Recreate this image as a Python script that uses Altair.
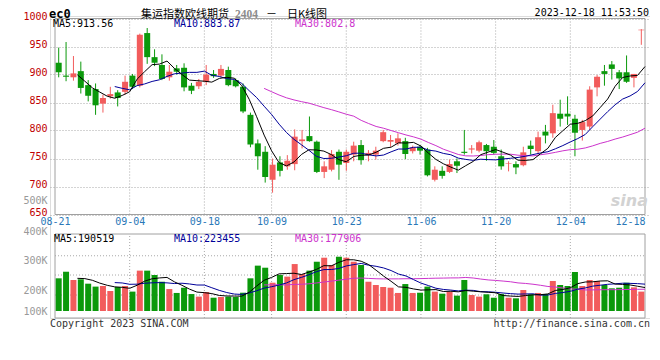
import json
import altair as alt
import pandas as pd

# ---------------- data ----------------
tick_days = [0, 10, 20, 29, 39, 49, 59, 69, 79]
tick_dates = ["08-21", "09-04", "09-18", "10-09", "10-23", "11-06", "11-20", "12-04", "12-18"]
grid_days = [10, 20, 29, 39, 49, 59, 69]

price_ticks = [650, 700, 750, 800, 850, 900, 950, 1000]

vol_tick_values = [0, 166000, 412000, 656000, 910000]
vol_tick_labels = ["100K", "200K", "300K", "400K", "500K"]
vol_grid = [131000, 295000, 453000]

prev_close = 919        # day before 08-21 (feeds the moving averages)
prev_volume = 236000

opens = [921, 898, 895, 906, 881, 874, 848, 861, 868, 869,
         898, 880, 974, 931, 917, 895, 911, 912, 880, 879,
         887, 901, 898, 908, 890, 878, 828, 777, 762, 712,
         743, 736, 740, 781, 790, 780, 726, 730, 762, 742,
         757, 774, 756, 757, 781, 780, 777, 781, 763, 771,
         766, 712, 728, 726, 745, 762, 766, 764, 774, 771,
         754, 741, 740, 738, 773, 763, 798, 795, 830, 830,
         821, 801, 807, 877, 906, 918, 904, 904, 894, 979]
highs = [948, 958, 933, 923, 890, 884, 864, 878, 872, 898,
         901, 973, 983, 945, 936, 917, 917, 920, 885, 892,
         917, 908, 917, 914, 893, 884, 832, 784, 772, 750,
         754, 756, 802, 801, 825, 782, 745, 765, 766, 766,
         780, 783, 765, 771, 801, 792, 795, 787, 773, 774,
         769, 736, 736, 748, 750, 801, 774, 782, 776, 783,
         766, 745, 745, 771, 782, 798, 810, 846, 855, 861,
         828, 819, 879, 899, 917, 924, 908, 934, 901, 981]
lows = [895, 888, 889, 866, 852, 828, 832, 857, 843, 864,
        874, 877, 919, 915, 890, 889, 900, 870, 865, 874,
        881, 894, 895, 879, 877, 831, 770, 730, 707, 689,
        718, 730, 729, 768, 780, 724, 715, 727, 712, 728,
        745, 739, 745, 748, 779, 771, 773, 749, 759, 757,
        718, 709, 714, 724, 724, 757, 759, 761, 746, 757,
        730, 727, 722, 736, 757, 758, 777, 787, 807, 810,
        754, 782, 801, 861, 880, 891, 874, 885, 877, 953]
closes = [904, 896, 902, 876, 862, 845, 858, 865, 858, 887,
          878, 971, 931, 921, 892, 905, 905, 877, 871, 887,
          900, 897, 910, 881, 879, 834, 775, 754, 717, 739,
          728, 746, 789, 784, 781, 726, 736, 758, 739, 762,
          773, 747, 760, 764, 797, 783, 786, 758, 770, 764,
          720, 730, 719, 740, 737, 760, 768, 779, 763, 760,
          736, 742, 734, 761, 767, 788, 791, 831, 821, 825,
          796, 815, 873, 896, 901, 910, 893, 887, 901, 980]
volumes = [268000, 322000, 254000, 260000, 224000, 200000, 205000, 164000, 197000, 205000,
           159000, 331000, 331000, 295000, 240000, 180000, 148000, 191000, 139000, 118000,
           156000, 109000, 115000, 118000, 115000, 150000, 268000, 372000, 355000, 232000,
           295000, 282000, 385000, 303000, 331000, 404000, 437000, 377000, 445000, 437000,
           404000, 377000, 240000, 213000, 197000, 191000, 148000, 221000, 148000, 150000,
           200000, 159000, 142000, 159000, 126000, 254000, 131000, 118000, 137000, 109000,
           139000, 109000, 104000, 172000, 137000, 148000, 139000, 246000, 213000, 205000,
           320000, 205000, 254000, 246000, 213000, 186000, 191000, 232000, 194000, 159000]

title_code = "ec0"
title_name = "集运指数欧线期货"
title_contract = "2404"
title_dash = "－"
title_kind = "日K线图"
stamp = "2023-12-18 11:53:50"
price_ma_texts = ["MA5:913.56", "MA10:883.87", "MA30:802.8"]
vol_ma_texts = ["MA5:190519", "MA10:223455", "MA30:177906"]
copyright_text = "Copyright 2023 SINA.COM"
url_text = "http://finance.sina.com.cn"
logo_text = "sina"

# ---------------- styling ----------------
RED = "#f25c5c"
GREEN = "#0b990b"
MA_COLORS = ["#000000", "#000099", "#cc33cc"]
GRID = "#a8a8a8"
MONO = "DejaVu Sans Mono"
CJK = "Noto Sans CJK SC"

n = len(closes)
nan = float("nan")
df = pd.DataFrame({
    "day": list(range(-1, n)),
    "open": [nan] + opens,
    "high": [nan] + highs,
    "low": [nan] + lows,
    "close": [prev_close] + closes,
    "volume": [prev_volume] + volumes,
})
one = pd.DataFrame({"k": [0]})

XS = alt.Scale(domain=[0, 79], range=[0, 600], nice=False, zero=False)
PS = alt.Scale(domain=[650, 1000], range=[198.5, 2.5], nice=False, zero=False)
VS = alt.Scale(domain=[-57400, 910200], range=[302, 184], nice=False, zero=False)

x_label_expr = "%s[indexof(%s, datum.value)]" % (json.dumps(tick_dates), json.dumps(tick_days))
XAX = alt.Axis(values=tick_days, labelExpr=x_label_expr, orient="bottom", offset=-103.5,
               domain=False, ticks=False, grid=False, labelFont=MONO, labelFontSize=10,
               labelColor="#2a78b8", labelPadding=2, labelFlush=False, labelOverlap=False,
               labelAlign={"condition": {"test": "datum.value == 79", "value": "right"}, "value": "center"},
               title=None)
PAX = alt.Axis(values=price_ticks, orient="left", grid=True, gridDash=[1, 2], gridColor=GRID,
               domain=False, ticks=False, labelFont=MONO, labelFontSize=10, labelColor="#c00000",
               labelPadding=3, labelOffset=-2.5, labelOverlap=False, format="d", title=None)
v_label_expr = "%s[indexof(%s, datum.value)]" % (json.dumps(vol_tick_labels), json.dumps(vol_tick_values))
VAX = alt.Axis(values=vol_tick_values, labelExpr=v_label_expr, orient="left", grid=False,
               domain=False, ticks=False, labelFont=MONO, labelFontSize=10, labelColor="#999999",
               labelPadding=3, labelOverlap=False, title=None)

base = alt.Chart(df)
cand = base.transform_filter("datum.day >= 0").transform_calculate(
    cx="(datum.day + 0.5) * 79 / 80",
    dir="datum.close >= datum.open ? 'up' : 'down'",
)
dir_color = alt.Color("dir:N", scale=alt.Scale(domain=["up", "down"], range=[RED, GREEN]), legend=None)

# ---- price panel ----
p_vgrid = alt.Chart(pd.DataFrame({"d": grid_days})).mark_rule(
    strokeDash=[1, 2], color=GRID, strokeWidth=1).encode(
    x=alt.X("d:Q", scale=XS, axis=XAX),
    y=alt.YDatum(650, scale=PS, axis=PAX),
    y2=alt.datum(1000))
p_frame = alt.Chart(one).mark_rect(fill="white", fillOpacity=0, stroke="#a0a0a0", strokeWidth=1).encode(
    x=alt.XDatum(0, scale=XS, axis=XAX), x2=alt.datum(79),
    y=alt.YDatum(650, scale=PS, axis=PAX), y2=alt.datum(1000))
wicks = cand.mark_rule(strokeWidth=1).encode(
    x=alt.X("cx:Q", scale=XS, axis=XAX),
    y=alt.Y("low:Q", scale=PS, axis=PAX), y2="high:Q", color=dir_color)
bodies = cand.mark_bar(size=6, orient="vertical").encode(
    x=alt.X("cx:Q", scale=XS, axis=XAX),
    y=alt.Y("open:Q", scale=PS, axis=PAX), y2="close:Q", color=dir_color)


def ma_line(field, win, color, scale, axis):
    name = "ma%d" % win
    cnt = "n%d" % win
    return base.transform_window(
        **{name: "mean(%s)" % field, cnt: "count()"},
        frame=[-(win - 1), 0], sort=[alt.SortField("day")],
    ).transform_filter("datum.%s == %d" % (cnt, win)).mark_line(
        color=color, strokeWidth=1).encode(
        x=alt.X("day:Q", scale=XS, axis=XAX),
        y=alt.Y("%s:Q" % name, scale=scale, axis=axis))


price = alt.layer(
    p_vgrid, p_frame, wicks, bodies,
    ma_line("close", 30, MA_COLORS[2], PS, PAX),
    ma_line("close", 10, MA_COLORS[1], PS, PAX),
    ma_line("close", 5, MA_COLORS[0], PS, PAX),
)

# ---- volume panel ----
v_vgrid = alt.Chart(pd.DataFrame({"d": grid_days})).mark_rule(
    strokeDash=[1, 2], color=GRID, strokeWidth=1).encode(
    x=alt.X("d:Q", scale=XS, axis=XAX),
    y=alt.YDatum(-57400, scale=VS, axis=VAX),
    y2=alt.datum(631400))
v_hgrid = alt.Chart(pd.DataFrame({"v": vol_grid})).mark_rule(
    strokeDash=[1, 2], color=GRID, strokeWidth=1).encode(
    x=alt.XDatum(0, scale=XS, axis=XAX), x2=alt.datum(79),
    y=alt.Y("v:Q", scale=VS, axis=VAX))
v_frame = alt.Chart(one).mark_rect(fill="white", fillOpacity=0, stroke="#a0a0a0", strokeWidth=1).encode(
    x=alt.XDatum(0, scale=XS, axis=XAX), x2=alt.datum(79),
    y=alt.YDatum(-57400, scale=VS, axis=VAX), y2=alt.datum(631400))
vbars = cand.mark_bar(size=6, orient="vertical").encode(
    x=alt.X("cx:Q", scale=XS, axis=XAX),
    y=alt.Y("volume:Q", scale=VS, axis=VAX), y2=alt.datum(0), color=dir_color)

volume = alt.layer(
    v_vgrid, v_hgrid, v_frame, vbars,
    ma_line("volume", 30, MA_COLORS[2], VS, VAX),
    ma_line("volume", 10, MA_COLORS[1], VS, VAX),
    ma_line("volume", 5, MA_COLORS[0], VS, VAX),
)


# ---- texts ----
def label(txt, x, y, color="#000000", size=10, font=MONO, weight="normal",
          align="left", baseline="middle", style="normal"):
    return alt.Chart(pd.DataFrame({"t": [txt]})).mark_text(
        align=align, baseline=baseline, font=font, fontSize=size, fontWeight=weight,
        color=color, fontStyle=style).encode(x=alt.value(x), y=alt.value(y), text="t:N")


texts = [
    label(title_code, -1, -7, size=12, weight="bold", baseline="top"),
    label(title_name, 91, -7, size=11, font=CJK, baseline="top"),
    label(title_contract, 185, -7, color="#8c8c8c", size=11.5, font="Liberation Serif",
          weight="bold", baseline="top"),
    label(title_dash, 216, -7, size=11, font=CJK, baseline="top"),
    label(title_kind, 237, -7, size=11, font=CJK, baseline="top"),
    label(stamp, 599, -8, align="right", baseline="top"),
    label(price_ma_texts[0], 3, 8, MA_COLORS[0]),
    label(price_ma_texts[1], 124, 8, MA_COLORS[1]),
    label(price_ma_texts[2], 245, 8, MA_COLORS[2]),
    label(vol_ma_texts[0], 4, 222.5, MA_COLORS[0]),
    label(vol_ma_texts[1], 124, 222.5, MA_COLORS[1]),
    label(vol_ma_texts[2], 245, 222.5, MA_COLORS[2]),
    label(copyright_text, 0, 307.5, "#333333"),
    label(url_text, 600, 307.5, "#333333", align="right"),
    label(logo_text, 598, 190, "#d2d2d2", size=16, font="DejaVu Sans", weight="bold",
          align="right", baseline="alphabetic", style="italic"),
]

chart = alt.layer(price, volume, *texts).resolve_scale(y="independent").properties(
    width=600, height=302,
    padding={"left": 42, "top": 8, "right": 0, "bottom": 20},
    autosize=alt.AutoSizeParams(type="none"),
).configure_view(strokeWidth=0).configure(background="white")

chart.save("out.html", embed_options={"renderer": "svg", "actions": False})
